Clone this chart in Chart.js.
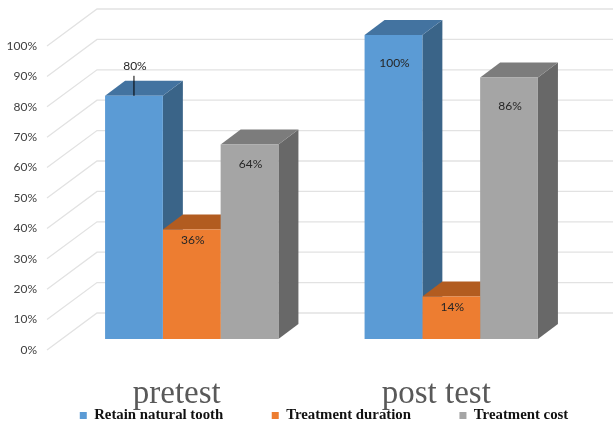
<!DOCTYPE html>
<html>
<head>
<meta charset="utf-8">
<style>
  html, body { margin: 0; padding: 0; background: #fff; }
  #wrap { width: 613px; height: 423px; }
</style>
</head>
<body>
<div id="wrap"><canvas id="myChart" width="613" height="423"></canvas></div>
<script src="https://cdn.jsdelivr.net/npm/chart.js@4"></script>
<script>
const categories = ['pretest', 'post test'];
const retainTooth = [80, 100];
const treatmentDuration = [36, 14];
const treatmentCost = [64, 86];
const yTicks = [0, 10, 20, 30, 40, 50, 60, 70, 80, 90, 100];

// depth of the fake 3D box, in pixels
const BAR_DX = 20, BAR_DY = 15;
const WALL_DX = 35, WALL_DY = 26;
const FLOOR_DX = 15, FLOOR_DY = 11;

const sideColors = ['#3A6488', '#B15D24', '#686868'];
const topColors = ['#4373A0', '#B25C20', '#7C7C7C'];

// how far each data label sits below the top of its bar (series, then category)
const labelDrop = [[-30, 28], [11, 11], [20, 29]];

function poly(c, color, pts) {
    c.fillStyle = color;
    c.beginPath();
    pts.forEach((p, i) => i ? c.lineTo(p[0], p[1]) : c.moveTo(p[0], p[1]));
    c.closePath();
    c.fill();
}

const box3d = {
    id: 'box3d',
    beforeDraw(chart) {
        // legend sits right of centre in the original and is drawn with wide padding
        chart.legend.left = -12;
        chart.legend.right = 660;
        chart.legend.top = 359.5;
    },
    beforeDatasetsDraw(chart) {
        const c = chart.ctx, y = chart.scales.y;
        c.save();
        c.strokeStyle = '#e2e2e2';
        c.lineWidth = 1.3;
        yTicks.forEach(v => {
            const p = y.getPixelForValue(v);
            c.beginPath();
            c.moveTo(chart.chartArea.left - FLOOR_DX, p + FLOOR_DY);
            c.lineTo(chart.chartArea.left + WALL_DX, p - WALL_DY);
            c.lineTo(chart.width, p - WALL_DY);
            c.stroke();
        });
        chart.data.datasets.forEach((ds, i) => {
            chart.getDatasetMeta(i).data.forEach(bar => {
                const l = bar.x - bar.width / 2, r = bar.x + bar.width / 2;
                poly(c, sideColors[i], [[r, bar.y], [r + BAR_DX, bar.y - BAR_DY], [r + BAR_DX, bar.base - BAR_DY], [r, bar.base]]);
                poly(c, topColors[i], [[l, bar.y], [l + BAR_DX, bar.y - BAR_DY], [r + BAR_DX, bar.y - BAR_DY], [r, bar.y]]);
            });
        });
        c.restore();
    },
    afterDatasetsDraw(chart) {
        const c = chart.ctx;
        c.save();
        c.font = '12px Lato';
        c.fillStyle = '#262626';
        c.textAlign = 'center';
        c.textBaseline = 'middle';
        chart.data.datasets.forEach((ds, i) => {
            chart.getDatasetMeta(i).data.forEach((bar, j) => {
                const drop = labelDrop[i][j];
                c.fillText(ds.data[j] + '%', bar.x + 1, bar.y + drop);
                if (drop < 0) {
                    c.strokeStyle = '#000';
                    c.lineWidth = 1;
                    c.beginPath();
                    c.moveTo(bar.x, bar.y + drop + 10);
                    c.lineTo(bar.x, bar.y);
                    c.stroke();
                }
            });
        });
        c.restore();
    }
};

new Chart(document.getElementById('myChart'), {
    type: 'bar',
    data: {
        labels: categories,
        datasets: [
            { label: 'Retain natural tooth', data: retainTooth, backgroundColor: '#5B9BD5' },
            { label: 'Treatment duration', data: treatmentDuration, backgroundColor: '#ED7D31' },
            { label: 'Treatment cost', data: treatmentCost, backgroundColor: '#A5A5A5' }
        ]
    },
    options: {
        responsive: false,
        animation: false,
        layout: { padding: { top: 35, left: 0, right: 0, bottom: 0 } },
        datasets: { bar: { barPercentage: 1, categoryPercentage: 0.668 } },
        plugins: {
            tooltip: { enabled: false },
            legend: {
                position: 'bottom',
                maxHeight: 12,
                labels: {
                    boxWidth: 7,
                    boxHeight: 7,
                    padding: 48.5,
                    color: '#111',
                    font: { family: 'Liberation Serif', size: 14.8, weight: 'bold' }
                }
            }
        },
        scales: {
            x: {
                border: { display: false },
                grid: { display: false },
                afterFit(s) { s.height = 72; },
                ticks: {
                    padding: 28,
                    labelOffset: -15,
                    maxRotation: 0,
                    color: '#595959',
                    font: { family: 'Liberation Serif', size: 33 }
                }
            },
            y: {
                min: 0,
                max: 100,
                border: { display: false },
                grid: { display: false },
                afterFit(s) { s.width = 62; },
                ticks: {
                    stepSize: 10,
                    padding: 17,
                    labelOffset: 11,
                    color: '#404040',
                    font: { family: 'Lato', size: 12 },
                    callback: v => v + '%'
                }
            },
            // empty axis, only keeps room on the right of the plot
            spacer: {
                axis: 'y',
                position: 'right',
                border: { display: false },
                grid: { display: false },
                ticks: { display: false },
                afterFit(s) { s.width = 32; }
            }
        }
    },
    plugins: [box3d]
});
</script>
</body>
</html>
